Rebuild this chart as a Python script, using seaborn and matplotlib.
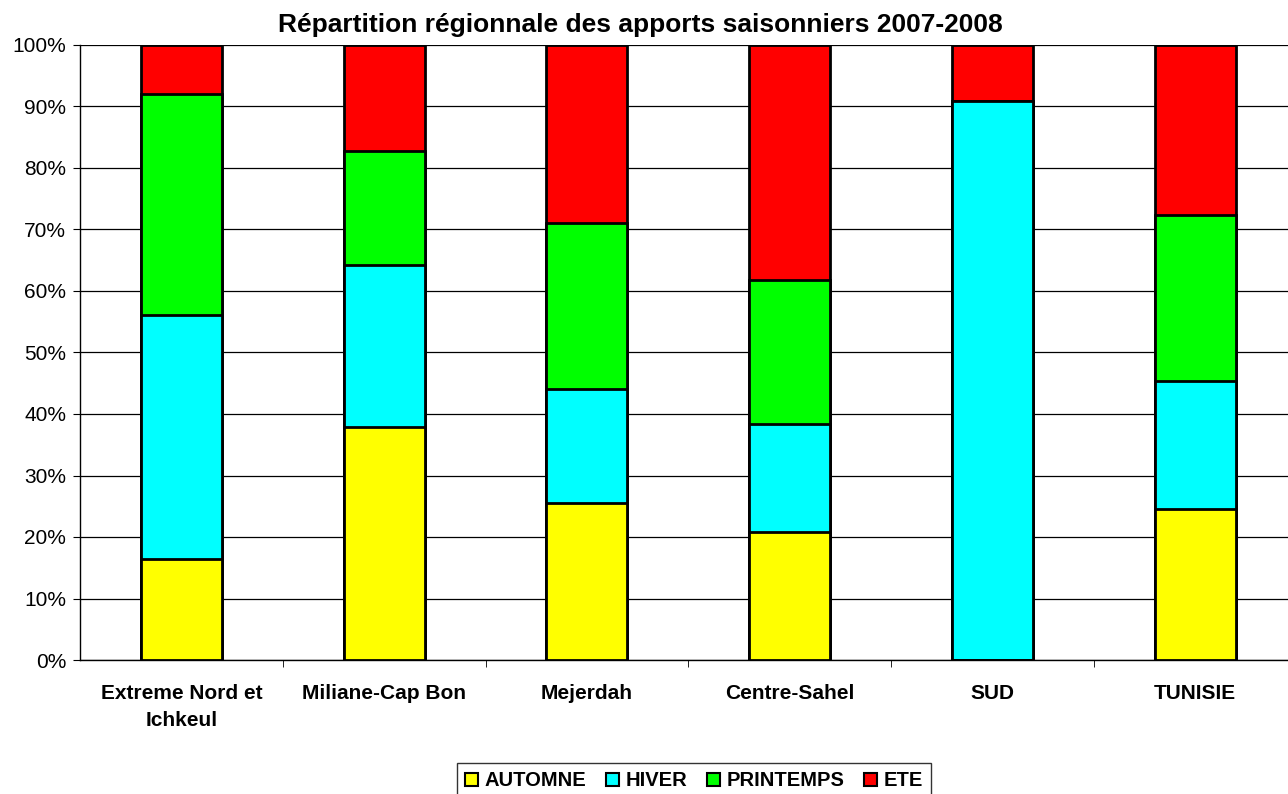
import numpy as np
import pandas as pd
import matplotlib
matplotlib.use("Agg")
import matplotlib.pyplot as plt
from matplotlib.patches import Patch
from matplotlib.ticker import PercentFormatter
import seaborn as sns

# Données (en %)
regions = ["Extreme Nord et\nIchkeul", "Miliane-Cap Bon", "Mejerdah",
           "Centre-Sahel", "SUD", "TUNISIE"]
automne = [16.5, 37.9, 25.5, 20.8, 0.0, 24.6]
hiver = [39.6, 26.3, 18.5, 17.6, 90.9, 20.7]
printemps = [35.9, 18.6, 27.1, 23.4, 0.0, 27.1]
ete = [8.0, 17.2, 28.9, 38.2, 9.1, 27.6]

saisons = ["AUTOMNE", "HIVER", "PRINTEMPS", "ETE"]
couleurs = ["#FFFF00", "#00FFFF", "#00FF00", "#FF0000"]

df = pd.DataFrame({"region": regions, "AUTOMNE": automne, "HIVER": hiver,
                   "PRINTEMPS": printemps, "ETE": ete})
cumul = df[saisons].cumsum(axis=1)

sns.set_style("white")
plt.rcParams["font.family"] = ["Liberation Sans", "DejaVu Sans"]
plt.rcParams["text.color"] = "black"
plt.rcParams["xtick.color"] = "black"
plt.rcParams["ytick.color"] = "black"

fig = plt.figure(figsize=(12.88, 7.94), dpi=100)
ax = fig.add_axes([80 / 1288, 134 / 794, 1216.5 / 1288, 615 / 794])

# barres empilées : on dessine les cumuls du haut vers le bas
for s, c in reversed(list(zip(saisons, couleurs))):
    sns.barplot(x=df["region"], y=cumul[s], color=c, width=0.4,
                edgecolor="black", linewidth=2, saturation=1, ax=ax, zorder=3)

ax.set_ylim(0, 100)
ax.set_xlim(-0.5, len(regions) - 0.5)
ax.set_yticks(np.arange(0, 101, 10))
ax.yaxis.set_major_formatter(PercentFormatter(decimals=0))
ax.grid(axis="y", color="black", linewidth=0.9)
ax.set_axisbelow(True)
ax.set_xlabel("")
ax.set_ylabel("")

for side in ["top", "right"]:
    ax.spines[side].set_visible(False)
for side in ["left", "bottom"]:
    ax.spines[side].set_color("black")
    ax.spines[side].set_linewidth(1)

ax.tick_params(axis="y", left=True, length=5, color="black", labelsize=15, pad=5)
ax.tick_params(axis="x", which="major", length=0, labelsize=15, pad=17)
ax.set_xticks(np.arange(len(regions) - 1) + 0.5, minor=True)
ax.tick_params(axis="x", which="minor", bottom=True, length=5, color="black")
for lab in ax.get_xticklabels():
    lab.set_fontweight("bold")
    lab.set_linespacing(1.55)

fig.suptitle("Répartition régionnale des apports saisonniers 2007-2008",
             x=640 / 1288, y=1 - 25 / 794, va="center",
             fontsize=19, fontweight="bold")

handles = [Patch(facecolor=c, edgecolor="black", linewidth=1.5, label=s)
           for s, c in zip(saisons, couleurs)]
leg = fig.legend(handles=handles, loc="center", ncol=4,
                 bbox_to_anchor=(694 / 1288, 1 - 781 / 794),
                 prop={"weight": "bold", "size": 14.5}, frameon=True,
                 fancybox=False, edgecolor="black", handlelength=0.65,
                 handleheight=0.65, handletextpad=0.3, columnspacing=1.0,
                 borderpad=0.4)
leg.get_frame().set_linewidth(1)

fig.savefig("out.png", dpi=100)
